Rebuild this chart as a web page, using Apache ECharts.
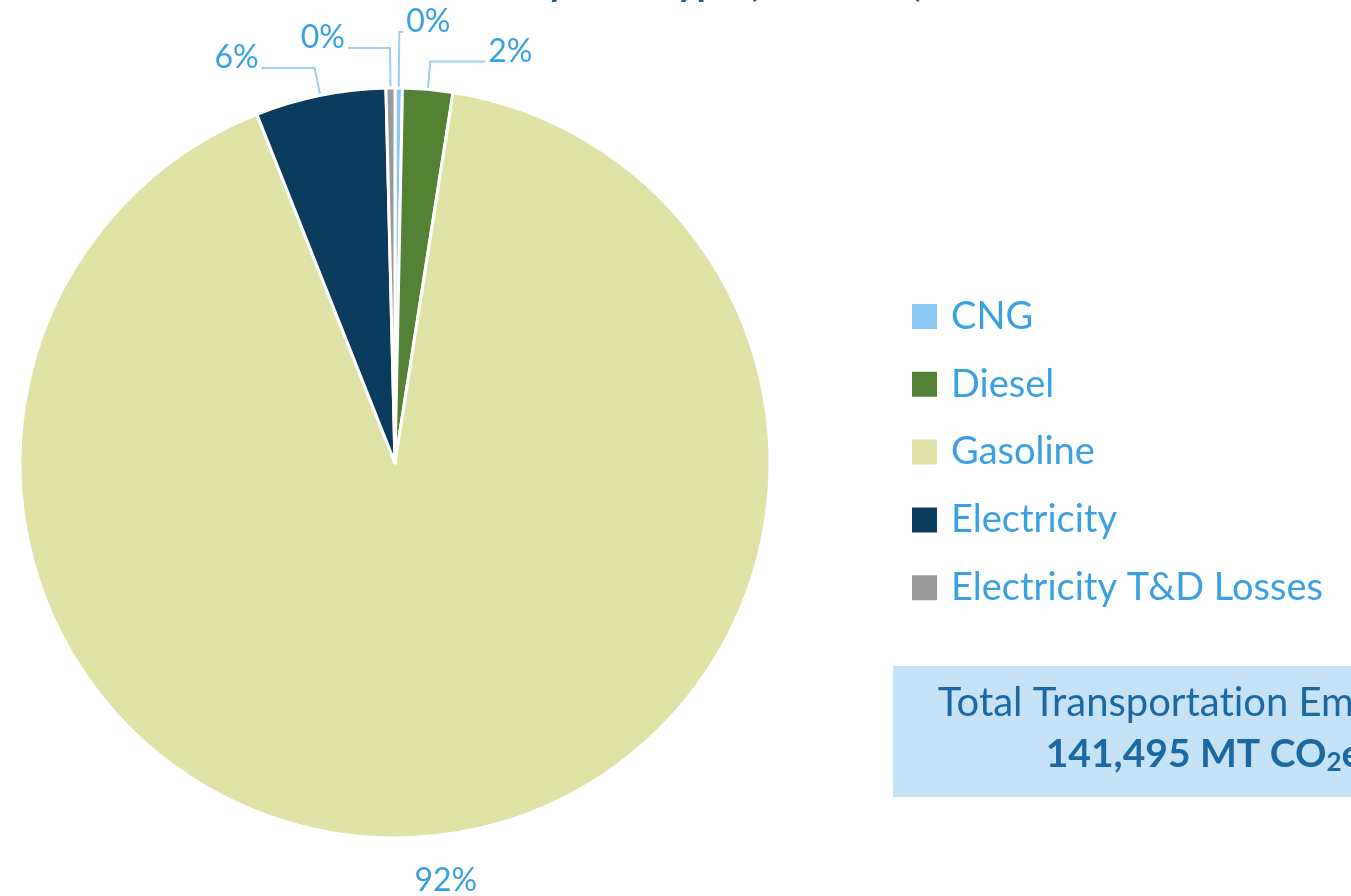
<!DOCTYPE html>
<html lang="en">
<head>
    <meta charset="UTF-8">
    <title>Transportation Emissions</title>
    <script src="https://cdn.jsdelivr.net/npm/echarts@6/dist/echarts.min.js"></script>
    <style>
        html, body { margin: 0; padding: 0; background: #fff; }
    </style>
</head>
<body>
    <div id="main" style="width: 1351px;height:896px;"></div>
    <script type="text/javascript">
        // Emissions by fuel type (MT CO2e)
        const categories = ['CNG', 'Diesel', 'Gasoline', 'Electricity', 'Electricity T&D Losses'];
        const emissions = [450, 3050, 129500, 7950, 545];
        const colors = ['#8ac7f3', '#538234', '#dfe3a6', '#0b3c5d', '#999999'];
        const totalLabel = '141,495';

        // leader line lengths per slice [radial, horizontal]
        const leaderLengths = [[56, 4], [28, 55], [45, 0], [28, 53], [40, 42]];

        const labelBlue = '#3aa0e4';
        const darkBlue = '#1a68a4';
        const font = 'Lato, "Open Sans", sans-serif';

        let myChart = echarts.init(document.getElementById('main'));

        let seriesData = categories.map((name, i) => ({
            name: name,
            value: emissions[i],
            itemStyle: { color: colors[i] },
            labelLine: {
                show: name !== 'Gasoline',
                length: leaderLengths[i][0],
                length2: leaderLengths[i][1]
            }
        }));

        let options = {
            animation: false,
            legend: {
                orient: 'vertical',
                left: 910,
                top: 295,
                padding: 0,
                icon: 'rect',
                itemWidth: 27,
                itemHeight: 27,
                itemGap: 24.8,
                selectedMode: false,
                data: categories,
                textStyle: {
                    color: labelBlue,
                    fontSize: 38,
                    fontFamily: font,
                    lineHeight: 43,
                    padding: [0, 0, 0, 8]
                }
            },
            graphic: [
                {
                    // chart title, cut off by the top edge of the picture
                    type: 'text',
                    x: 925,
                    y: -16,
                    style: {
                        text: '{b|Emissions by Fuel Type (MT CO}{s|2}{b|e)}',
                        align: 'right',
                        verticalAlign: 'middle',
                        rich: {
                            b: { fontSize: 38, fontWeight: 'bold', fontFamily: font, fill: '#1d5f97' },
                            s: { fontSize: 24, fontWeight: 'bold', fontFamily: font, fill: '#1d5f97', padding: [16, 0, 0, 0] }
                        }
                    }
                },
                {
                    type: 'rect',
                    shape: { x: 893, y: 666, width: 520, height: 131 },
                    style: { fill: '#c5e2f6' }
                },
                {
                    type: 'text',
                    x: 1204,
                    y: 703,
                    style: {
                        text: 'Total Transportat\u200Cion Emissions',
                        fill: darkBlue,
                        fontSize: 40,
                        fontFamily: font,
                        align: 'center',
                        verticalAlign: 'middle'
                    }
                },
                {
                    type: 'text',
                    x: 1204,
                    y: 754,
                    style: {
                        text: '{b|' + totalLabel + ' MT CO}{s|2}{b|e}',
                        align: 'center',
                        verticalAlign: 'middle',
                        rich: {
                            b: { fontSize: 39, fontWeight: 'bold', fontFamily: font, fill: darkBlue },
                            s: { fontSize: 26, fontWeight: 'bold', fontFamily: font, fill: darkBlue, padding: [18, 0, 0, 0] }
                        }
                    }
                }
            ],
            series: [{
                name: 'Emissions',
                type: 'pie',
                center: [395, 463],
                radius: 375,
                startAngle: 90,
                clockwise: true,
                avoidLabelOverlap: false,
                itemStyle: { borderColor: '#fff', borderWidth: 3 },
                label: {
                    show: true,
                    position: 'outside',
                    color: labelBlue,
                    fontSize: 32,
                    fontFamily: font,
                    distanceToLabelLine: 3,
                    formatter: p => Math.round(p.percent) + '%'
                },
                labelLine: {
                    show: true,
                    lineStyle: { color: '#9dd0f3', width: 2 }
                },
                labelLayout: p => (p.dataIndex === 2 ? { dx: -30 } : { dy: -10 }),
                emphasis: { disabled: true },
                data: seriesData
            }]
        };

        myChart.setOption(options);
    </script>
</body>
</html>
